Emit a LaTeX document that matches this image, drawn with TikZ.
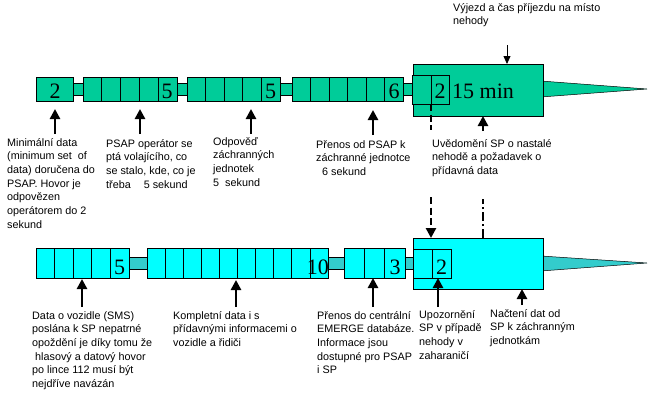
\documentclass[tikz,border=0pt]{standalone}
\usepackage{fontspec}
\setmainfont{Liberation Sans}
\newfontfamily\numfont{Liberation Serif}
\usetikzlibrary{arrows.meta}
\definecolor{tgreen}{RGB}{0,204,153}
\definecolor{bcyan}{RGB}{0,255,255}
\definecolor{bbar}{RGB}{51,204,204}
\newcommand{\lbl}[1]{\parbox[t]{170pt}{\raggedright\fontsize{10.8}{13.7}\selectfont #1}}
\newcommand{\cellrow}[6]{%
  \draw[#6] (#1,#3) rectangle (#2,#4);
  \foreach \k in {1,...,#5} {\draw[edge] ({#1+(#2-#1)*\k/(#5+1)},#3) -- ({#1+(#2-#1)*\k/(#5+1)},#4);}
}
\begin{document}
\begin{tikzpicture}[x=1pt,y=-1pt,
  edge/.style={draw=black,line width=0.7pt},
  tcell/.style={edge,fill=tgreen},
  bcell/.style={edge,fill=bcyan},
  bbarst/.style={edge,fill=bbar},
  num/.style={font=\numfont\fontsize{22}{22}\selectfont,inner sep=0pt,anchor=base},
  txt/.style={inner sep=0pt,anchor=base west},
  bigbox/.style={edge,inner sep=0pt,outer sep=0pt,minimum width=130pt},
  up/.style={line width=2.5pt,-{Triangle[width=10pt,length=10pt]}},
  thinarrow/.style={line width=0.8pt,-{Triangle[width=7pt,length=8pt]}},
  dashline/.style={line width=2.5pt,dash pattern=on 7pt off 3.5pt},
  dashdotline/.style={line width=2.5pt,dash pattern=on 9pt off 3pt on 2pt off 3pt},
]
\useasboundingbox (0,0) rectangle (657,407);
% ---------- top row ----------
\draw[tcell] (73,83) rectangle (83,95);
\draw[tcell] (177,83) rectangle (187,95);
\draw[tcell] (280,83) rectangle (292,95);
\draw[tcell] (403,83) rectangle (413,95);
\draw[tcell] (36,77) rectangle (73,101);
\cellrow{83}{177}{77}{101}{4}{tcell}
\cellrow{187}{280}{77}{101}{4}{tcell}
\cellrow{292}{403}{77}{101}{5}{tcell}
\draw[edge,fill=tgreen,line width=0.5pt] (541,81) -- (647,89) -- (541,97) -- cycle;
\node[bigbox,fill=tgreen,minimum height=52pt] (topbig) at (478,90) {};
\draw[tcell] (412,75) rectangle (449,104);
\draw[edge] (431,75) -- (431,104);
\node[num] (n1) at (55,98) {2};
\node[num] (n2) at (167,98) {5};
\node[num] (n3) at (270.5,98) {5};
\node[num] (n4) at (394,98) {6};
\node[num] (n5) at (440,98) {2};
\node[num,anchor=base west] (n6) at (452,98) {15 min};
% ---------- bottom row ----------
\draw[bbarst] (129,257) rectangle (147,269);
\draw[bbarst] (328,257) rectangle (344,269);
\draw[bbarst] (405,257) rectangle (413,269);
\cellrow{36}{129}{248}{278}{4}{bcell}
\cellrow{147}{328}{248}{278}{9}{bcell}
\cellrow{344}{405}{248}{278}{2}{bcell}
\draw[edge,fill=bbar,line width=0.5pt] (541,256) -- (647,263) -- (541,271) -- cycle;
\node[bigbox,fill=bcyan,minimum height=51pt] (botbig) at (478,263.5) {};
\draw[bcell] (413,249) rectangle (451,278);
\draw[edge] (432,249) -- (432,278);
\node[num] (m1) at (119.5,274) {5};
\node[num,anchor=base east] (m2) at (329,274) {10};
\node[num] (m3) at (395,274) {3};
\node[num] (m4) at (441.5,274) {2};
% ---------- top arrows ----------
\coordinate (a1t) at (55,134);  \coordinate (a1h) at (55,109);
\coordinate (a2t) at (140,134); \coordinate (a2h) at (140,109);
\coordinate (a3t) at (251,134); \coordinate (a3h) at (251,109);
\coordinate (a4t) at (373,135); \coordinate (a4h) at (373,110);
\draw[up] (a1t) -- (a1h);
\draw[up] (a2t) -- (a2h);
\draw[up] (a3t) -- (a3h);
\draw[up] (a4t) -- (a4h);
\coordinate (vt) at (507,45);
\draw[thinarrow] (vt) -- (507,64);
% ---------- bottom arrows ----------
\coordinate (b1t) at (82,307);  \coordinate (b1h) at (82,279);
\coordinate (b2t) at (236,307); \coordinate (b2h) at (236,280);
\coordinate (b3t) at (373,307); \coordinate (b3h) at (373,278);
\coordinate (b4t) at (438,307); \coordinate (b4h) at (438,278);
\coordinate (b5t) at (522,305); \coordinate (b5h) at (522,289);
\draw[up] (b1t) -- (b1h);
\draw[up] (b2t) -- (b2h);
\draw[up] (b3t) -- (b3h);
\draw[up] (b4t) -- (b4h);
\draw[up] (b5t) -- (b5h);
% ---------- dashed links between rows ----------
\coordinate (d1a) at (431,104); \coordinate (d1b) at (431,130);
\coordinate (d2a) at (431,197); \coordinate (d2b) at (431,238);
\draw[dashline] (d1a) -- (d1b);
\draw[dashline,-{Triangle[width=10pt,length=10pt]}] (d2a) -- (d2b);
\coordinate (e1a) at (483,238); \coordinate (e1b) at (483,199);
\coordinate (e2a) at (483,131); \coordinate (e2b) at (483,116);
\draw[dashdotline] (e1a) -- (e1b);
\draw[up] (e2a) -- (e2b);
% ---------- texts ----------
\node[txt] (t1) at (7,146) {\lbl{Minimální data\\(minimum set~ of\\data) doručena do\\PSAP. Hovor je\\odpovězen\\operátorem do 2\\sekund}};
\node[txt] (t2) at (106,147) {\lbl{PSAP operátor se\\ptá volajícího, co\\se stalo, kde, co je\\třeba\hspace*{13pt}5 sekund}};
\node[txt] (t3) at (213,145) {\lbl{Odpověď\\záchranných\\jednotek\\5~ sekund}};
\node[txt] (t4) at (316,148) {\lbl{Přenos od PSAP k\\záchranné jednotce\\\hspace*{6pt}6 sekund}};
\node[txt] (t5) at (432,147) {\lbl{Uvědomění SP o nastalé\\nehodě a požadavek o\\přídavná data}};
\node[txt] (t6) at (453,11) {\lbl{Výjezd a čas příjezdu na místo\\nehody}};
\node[txt] (t7) at (32,319) {\lbl{Data o vozidle (SMS)\\poslána k SP nepatrné\\opoždění je díky tomu že\\\hspace*{3pt}hlasový a datový hovor\\po lince 112 musí být\\nejdříve navázán}};
\node[txt] (t8) at (173,319) {\lbl{Kompletní data i s\\přídavnými informacemi o\\vozidle a řidiči}};
\node[txt] (t9) at (317,319) {\lbl{Přenos do centrální\\EMERGE databáze.\\Informace jsou\\dostupné pro PSAP\\i SP}};
\node[txt] (t10) at (419,318) {\lbl{Upozornění\\SP v případě\\nehody v\\zaharaničí}};
\node[txt] (t11) at (490,317) {\lbl{Načtení dat od\\SP k záchranným\\jednotkám}};
\end{tikzpicture}
\end{document}
